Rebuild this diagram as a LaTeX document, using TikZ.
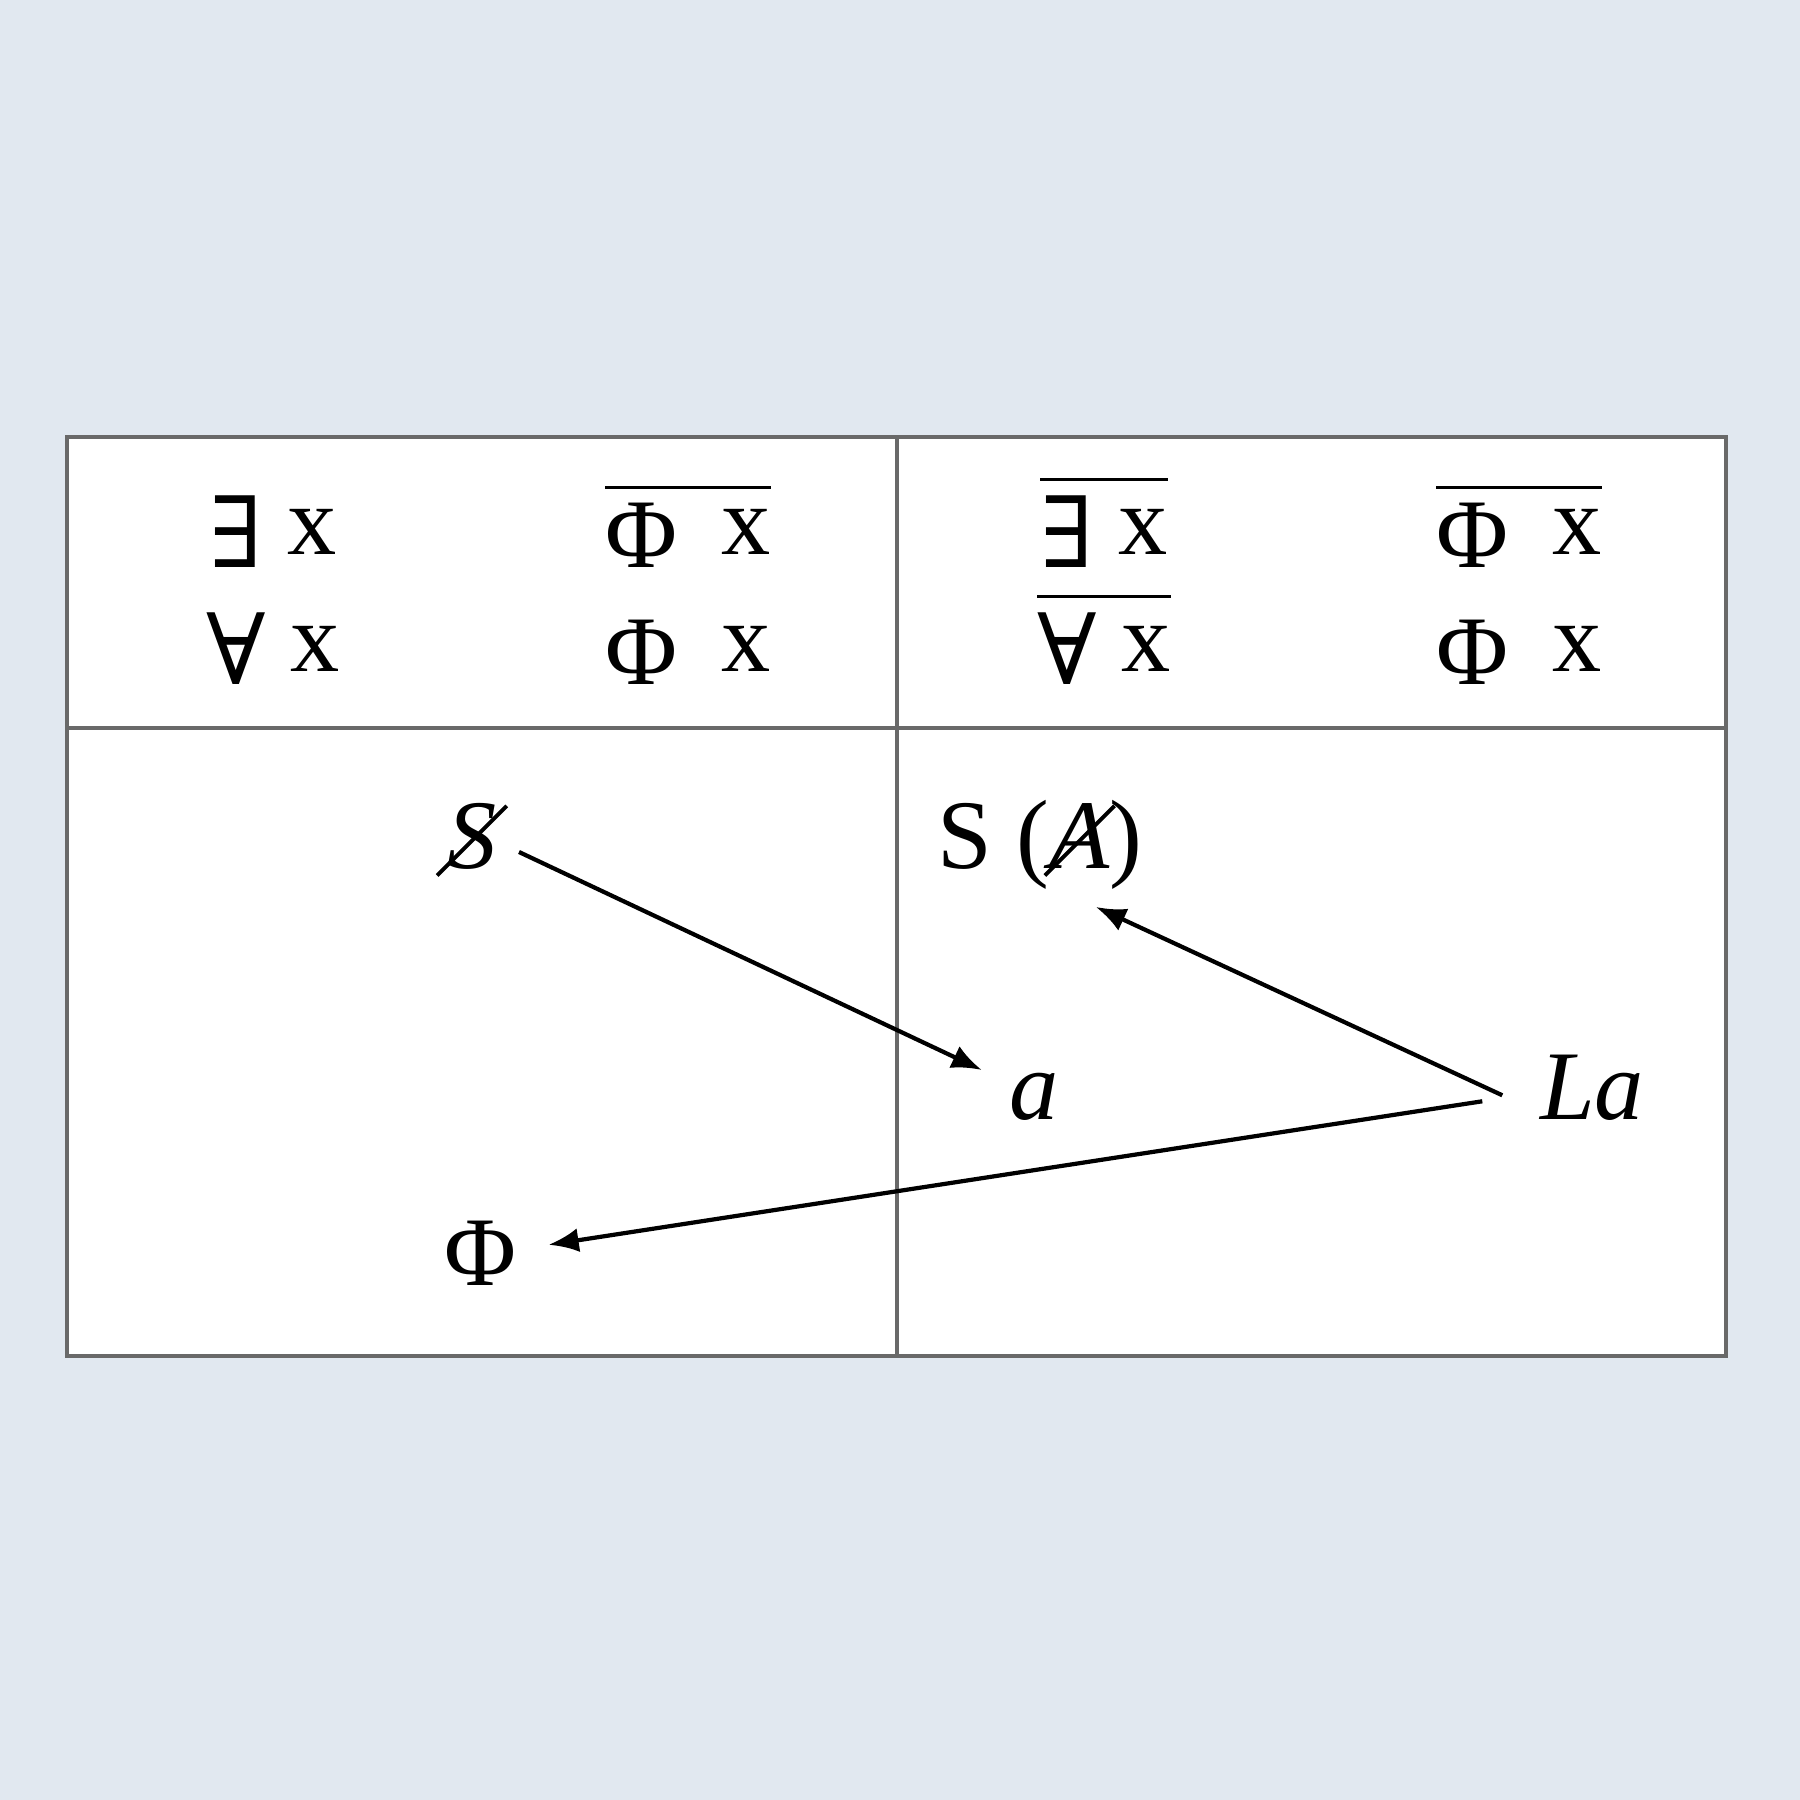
\documentclass[tikz,border=0pt]{standalone}
\usepackage{fontspec}
\setmainfont{Liberation Serif}
\newfontfamily\quantfont{DejaVu Serif}
\usetikzlibrary{arrows.meta}
\definecolor{225_232_240}{RGB}{225, 232, 240}
\definecolor{105_105_105}{RGB}{105, 105, 105}
\definecolor{black}{RGB}{0, 0, 0}
\newcommand{\ovl}[1]{\vbox{\hrule height 0.9pt\kern 4pt\hbox{#1}}}
\newcommand{\lowsym}[1]{\raisebox{-3.5pt}{#1}}
\newcommand{\strk}[1]{\ooalign{#1\cr\hidewidth\raisebox{7.5pt}{\rotatebox[origin=c]{45}{\rule{1.0em}{1.1pt}}}\hidewidth\cr}}

\begin{document}
\begin{tikzpicture}[
        every node/.style={font=\fontsize{28}{30}\selectfont, inner sep=2pt, anchor=base},
        grid line/.style={draw=105_105_105, line width=1pt},
        link/.style={-{Latex[length=3mm,width=2.4mm]}, line width=1.2pt, draw=black}
    ]
    \useasboundingbox[fill=225_232_240] (0,0) rectangle (18,18);

    % table
    \fill[white] (0.67,4.44) rectangle (17.26,13.63);
    \draw[grid line] (0.67,4.44) rectangle (17.26,13.63);
    \draw[grid line] (0.67,10.72) -- (17.26,10.72);
    \draw[grid line] (8.97,4.44) -- (8.97,13.63);

    % header row
    \node (exl) at (2.73,12.45) {\lowsym{\quantfont ∃} x};
    \node (all) at (2.73,11.28) {\lowsym{\quantfont ∀} x};
    \node (phl1) at (6.88,12.45) {\ovl{\lowsym{Φ}\hspace{0.45em}x}};
    \node (phl2) at (6.88,11.28) {\lowsym{Φ}\hspace{0.45em}x};
    \node (exr) at (11.04,12.45) {\ovl{\lowsym{\quantfont ∃} x}};
    \node (alr) at (11.04,11.28) {\ovl{\lowsym{\quantfont ∀} x}};
    \node (phr1) at (15.19,12.45) {\ovl{\lowsym{Φ}\hspace{0.45em}x}};
    \node (phr2) at (15.19,11.28) {\lowsym{Φ}\hspace{0.45em}x};

    % lower row
    \node (s) at (4.72,9.31) {\textit{\strk{S}}};
    \node (sa) at (10.40,9.31) {S (\textit{\strk{A}})};
    \node (a) at (10.34,6.80) {\textit{a}};
    \node (la) at (15.92,6.80) {\textit{La}};
    \node (phi) at (4.80,5.14) {Φ};

    \draw[link] ([shift={(4.7mm,1.7mm)}]s.base) -- ([shift={(-2mm,-0.4mm)}]a.north west);
    \draw[link] ([shift={(-3mm,-0.7mm)}]la.west) -- ([shift={(5.6mm,-3.8mm)}]sa.base);
    \draw[link] ([shift={(-5mm,-1.3mm)}]la.west) -- ([shift={(2.5mm,0.9mm)}]phi.east);
\end{tikzpicture}
\end{document}
